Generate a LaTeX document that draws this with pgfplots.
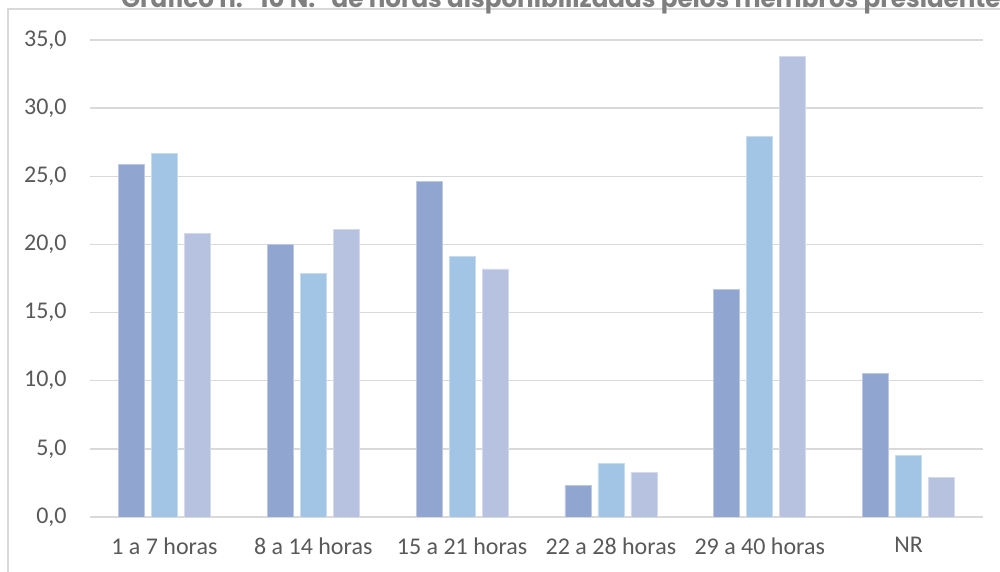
\documentclass[border=0pt]{standalone}
\usepackage{pgfplots}
\pgfplotsset{compat=1.18}
\usepackage{fontspec}
\setmainfont{Carlito}
\newfontfamily\titlefont{Poppins}
\definecolor{cA}{RGB}{145,165,209}
\definecolor{cB}{RGB}{162,196,229}
\definecolor{cC}{RGB}{182,194,224}
\definecolor{gridc}{RGB}{217,217,217}
\definecolor{tickc}{RGB}{89,89,89}
\definecolor{titc}{RGB}{127,127,127}
\begin{document}
\begin{tikzpicture}
\path[use as bounding box] (0,0) rectangle (500pt,286pt);
\clip (0,0) rectangle (500pt,286pt);
\draw[gridc, line width=0.75pt] (4pt,-2pt) -- (4pt,281.5pt) -- (510pt,281.5pt);
\node[anchor=base west, inner sep=0pt, text=titc, font=\titlefont\bfseries\fontsize{12.3}{14}\selectfont] at (60.5pt,282.4pt) {Gráfico n.º 10 N.º de horas disponibilizadas pelos membros presidentes};
\begin{axis}[
  at={(45pt,27.5pt)}, anchor=south west,
  scale only axis, width=446.5pt, height=238.5pt,
  xmin=-0.5, xmax=5.5, ymin=0, ymax=35,
  ytick={0,5,...,35},
  xtick={0,1,2,3,4,5},
  xticklabels={1 a 7 horas,8 a 14 horas,15 a 21 horas,22 a 28 horas,29 a 40 horas,NR},
  ymajorgrids, grid style={gridc, line width=0.75pt},
  axis line style={draw=none},
  major tick length=0pt,
  ybar=3.5pt, bar width=13pt,
  /pgf/number format/.cd, fixed, fixed zerofill, precision=1, use comma, assume math mode=true,
  /pgfplots/.cd,
  tick label style={font=\fontsize{12}{14}\selectfont, text=tickc, inner sep=0pt},
  yticklabel style={anchor=east, xshift=-11.5pt},
  xticklabel style={anchor=north, yshift=-10pt},
]
\addplot[fill=cA, draw=white!40!cA, line width=0.4pt] coordinates {(0,25.9) (1,20.0) (2,24.6) (3,2.3) (4,16.7) (5,10.5)};
\addplot[fill=cB, draw=white!40!cB, line width=0.4pt] coordinates {(0,26.7) (1,17.9) (2,19.1) (3,3.9) (4,27.9) (5,4.5)};
\addplot[fill=cC, draw=white!40!cC, line width=0.4pt] coordinates {(0,20.8) (1,21.1) (2,18.2) (3,3.3) (4,33.8) (5,2.9)};
\end{axis}
\end{tikzpicture}
\end{document}
